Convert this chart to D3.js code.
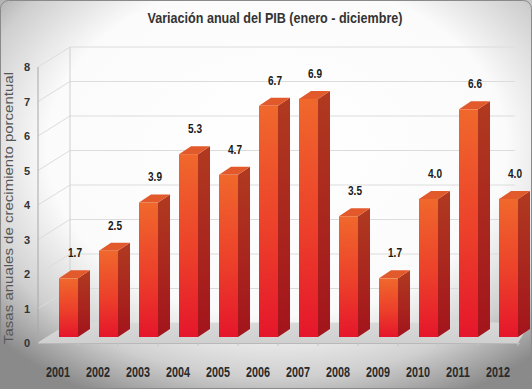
<!DOCTYPE html>
<html>
<head>
<meta charset="utf-8">
<script src="https://cdn.jsdelivr.net/npm/d3@7"></script>
<style>
  body { margin: 0; background: #fff; }
  svg { display: block; }
</style>
</head>
<body>
<script>
var width = 532,
    height = 389;

// donnees
var years = ["2001", "2002", "2003", "2004", "2005", "2006", "2007", "2008", "2009", "2010", "2011", "2012"];
var values = [1.7, 2.5, 3.9, 5.3, 4.7, 6.7, 6.9, 3.5, 1.7, 4.0, 6.6, 4.0];
var yTicks = [0, 1, 2, 3, 4, 5, 6, 7, 8];

var title = "Variación anual del PIB (enero - diciembre)";
var yTitle = "Tasas anuales de crecimiento porcentual";

// profondeur 3D
var wallDx = 32, wallDy = -20;
var barDy = -6, sideDx = 12, sideDy = -8;

var svg = d3.select("body").append("svg")
    .attr("width", width)
    .attr("height", height);

var defs = svg.append("defs");

var vig = defs.append("radialGradient").attr("id", "vig")
    .attr("cx", "52%").attr("cy", "38%").attr("r", "72%");
vig.append("stop").attr("offset", "0%").attr("stop-color", "#ffffff");
vig.append("stop").attr("offset", "60%").attr("stop-color", "#fbfbfb");
vig.append("stop").attr("offset", "82%").attr("stop-color", "#cfcfcf");
vig.append("stop").attr("offset", "100%").attr("stop-color", "#8a8a8a");

var front = defs.append("linearGradient").attr("id", "front")
    .attr("x1", 0).attr("y1", 0).attr("x2", 0).attr("y2", 1);
front.append("stop").attr("offset", "0%").attr("stop-color", "#f0682c");
front.append("stop").attr("offset", "55%").attr("stop-color", "#ec3f2a");
front.append("stop").attr("offset", "100%").attr("stop-color", "#e5162b");

var side = defs.append("linearGradient").attr("id", "side")
    .attr("x1", 0).attr("y1", 0).attr("x2", 0).attr("y2", 1);
side.append("stop").attr("offset", "0%").attr("stop-color", "#b03a20");
side.append("stop").attr("offset", "100%").attr("stop-color", "#a3141c");

var floorG = defs.append("linearGradient").attr("id", "floorG")
    .attr("x1", 0).attr("y1", 0).attr("x2", 0).attr("y2", 1);
floorG.append("stop").attr("offset", "0%").attr("stop-color", "#d9d9d9");
floorG.append("stop").attr("offset", "100%").attr("stop-color", "#cfcfcf");

// fond degrade
svg.append("rect")
    .attr("width", width).attr("height", height)
    .attr("fill", "url(#vig)");
svg.append("rect")
    .attr("x", 0.5).attr("y", 0.5)
    .attr("width", width - 1).attr("height", height - 1)
    .attr("rx", 8)
    .attr("fill", "none")
    .attr("stroke", "#8a8a8a");

// echelles
var x = d3.scaleBand().domain(years).range([38, 518]).padding(0);
var y = d3.scaleLinear().domain([0, 8]).range([343, 67]);

var fmt = d3.format(".1f");

// murs
var g = svg.append("g");

g.selectAll(".grid").data(yTicks).join("path")
    .attr("class", "grid")
    .attr("fill", "none")
    .attr("stroke", "#dcdcdc")
    .attr("d", function (d) {
        var yy = y(d);
        return "M38," + yy + "L" + (38 + wallDx) + "," + (yy + wallDy) + "L515," + (yy + wallDy);
    });

g.append("line")
    .attr("x1", 38 + wallDx).attr("x2", 38 + wallDx)
    .attr("y1", y(8) + wallDy).attr("y2", y(0) + wallDy)
    .attr("stroke", "#cfcfcf");

// sol
g.append("path")
    .attr("d", "M38," + y(0) + "L" + (38 + wallDx) + "," + (y(0) + wallDy) +
        "L530," + (y(0) + wallDy) + "L518," + y(0) + "Z")
    .attr("fill", "url(#floorG)");
g.append("line")
    .attr("x1", 38).attr("x2", 520)
    .attr("y1", y(0) + 0.5).attr("y2", y(0) + 0.5)
    .attr("stroke", "#b8b8b8");
g.selectAll(".xt").data(years).join("line")
    .attr("class", "xt")
    .attr("x1", function (d) { return x(d) + x.bandwidth(); })
    .attr("x2", function (d) { return x(d) + x.bandwidth(); })
    .attr("y1", y(0)).attr("y2", y(0) + 3)
    .attr("stroke", "#c4c4c4");

// axe Y
g.append("line")
    .attr("x1", 38).attr("x2", 38)
    .attr("y1", y(8)).attr("y2", y(0))
    .attr("stroke", "#a8a8a8");

g.selectAll(".ytl").data(yTicks).join("text")
    .attr("class", "ytl")
    .attr("x", 27)
    .attr("y", function (d) { return y(d) + 4; })
    .attr("text-anchor", "middle")
    .attr("font-family", "Liberation Sans, Arial, sans-serif")
    .attr("font-weight", "bold")
    .attr("font-size", 11)
    .attr("fill", "#333")
    .text(function (d) { return d; });

// barres 3D
var bars = g.selectAll(".bar").data(values).join("g").attr("class", "bar");

function fx(i) { return x(years[i]) + 21; }
var fw = 19;

bars.append("path")
    .attr("fill", "url(#side)")
    .attr("d", function (d, i) {
        var x0 = fx(i) + fw, yt = y(d) + barDy, yb = y(0) + barDy;
        return "M" + x0 + "," + yt + "L" + (x0 + sideDx) + "," + (yt + sideDy) +
            "L" + (x0 + sideDx) + "," + (yb + sideDy) + "L" + x0 + "," + yb + "Z";
    });

bars.append("path")
    .attr("fill", "#e2592b")
    .attr("d", function (d, i) {
        var x0 = fx(i), yt = y(d) + barDy;
        return "M" + x0 + "," + yt + "L" + (x0 + sideDx) + "," + (yt + sideDy) +
            "L" + (x0 + fw + sideDx) + "," + (yt + sideDy) + "L" + (x0 + fw) + "," + yt + "Z";
    });

bars.append("rect")
    .attr("fill", "url(#front)")
    .attr("x", function (d, i) { return fx(i); })
    .attr("y", function (d) { return y(d) + barDy; })
    .attr("width", fw)
    .attr("height", function (d) { return y(0) - y(d); });

// etiquettes de valeur
bars.append("text")
    .attr("x", function (d, i) { return x(years[i]) + x.bandwidth() / 2 + 17; })
    .attr("y", function (d) { return y(d) + barDy - 21; })
    .attr("text-anchor", "middle")
    .attr("font-family", "Liberation Sans, Arial, sans-serif")
    .attr("font-weight", "bold")
    .attr("font-size", 12)
    .attr("textLength", 14)
    .attr("lengthAdjust", "spacingAndGlyphs")
    .attr("fill", "#1a1a1a")
    .text(function (d) { return fmt(d); });

// etiquettes X
g.selectAll(".xl").data(years).join("text")
    .attr("class", "xl")
    .attr("x", function (d) { return x(d) + x.bandwidth() / 2; })
    .attr("y", 377)
    .attr("text-anchor", "middle")
    .attr("font-family", "Liberation Sans, Arial, sans-serif")
    .attr("font-size", 14)
    .attr("font-weight", "bold")
    .attr("textLength", 24)
    .attr("lengthAdjust", "spacingAndGlyphs")
    .attr("fill", "#2a2a2a")
    .text(function (d) { return d; });

// titres
svg.append("text")
    .attr("x", 275)
    .attr("y", 23)
    .attr("text-anchor", "middle")
    .attr("font-family", "Liberation Sans, Arial, sans-serif")
    .attr("font-weight", "bold")
    .attr("font-size", 15)
    .attr("textLength", 255)
    .attr("lengthAdjust", "spacingAndGlyphs")
    .attr("fill", "#333")
    .text(title);

svg.append("text")
    .attr("transform", "translate(13,208) rotate(-90)")
    .attr("text-anchor", "middle")
    .attr("font-family", "Liberation Sans, Arial, sans-serif")
    .attr("font-size", 12)
    .attr("textLength", 272)
    .attr("lengthAdjust", "spacingAndGlyphs")
    .attr("fill", "#555")
    .text(yTitle);
</script>
</body>
</html>
